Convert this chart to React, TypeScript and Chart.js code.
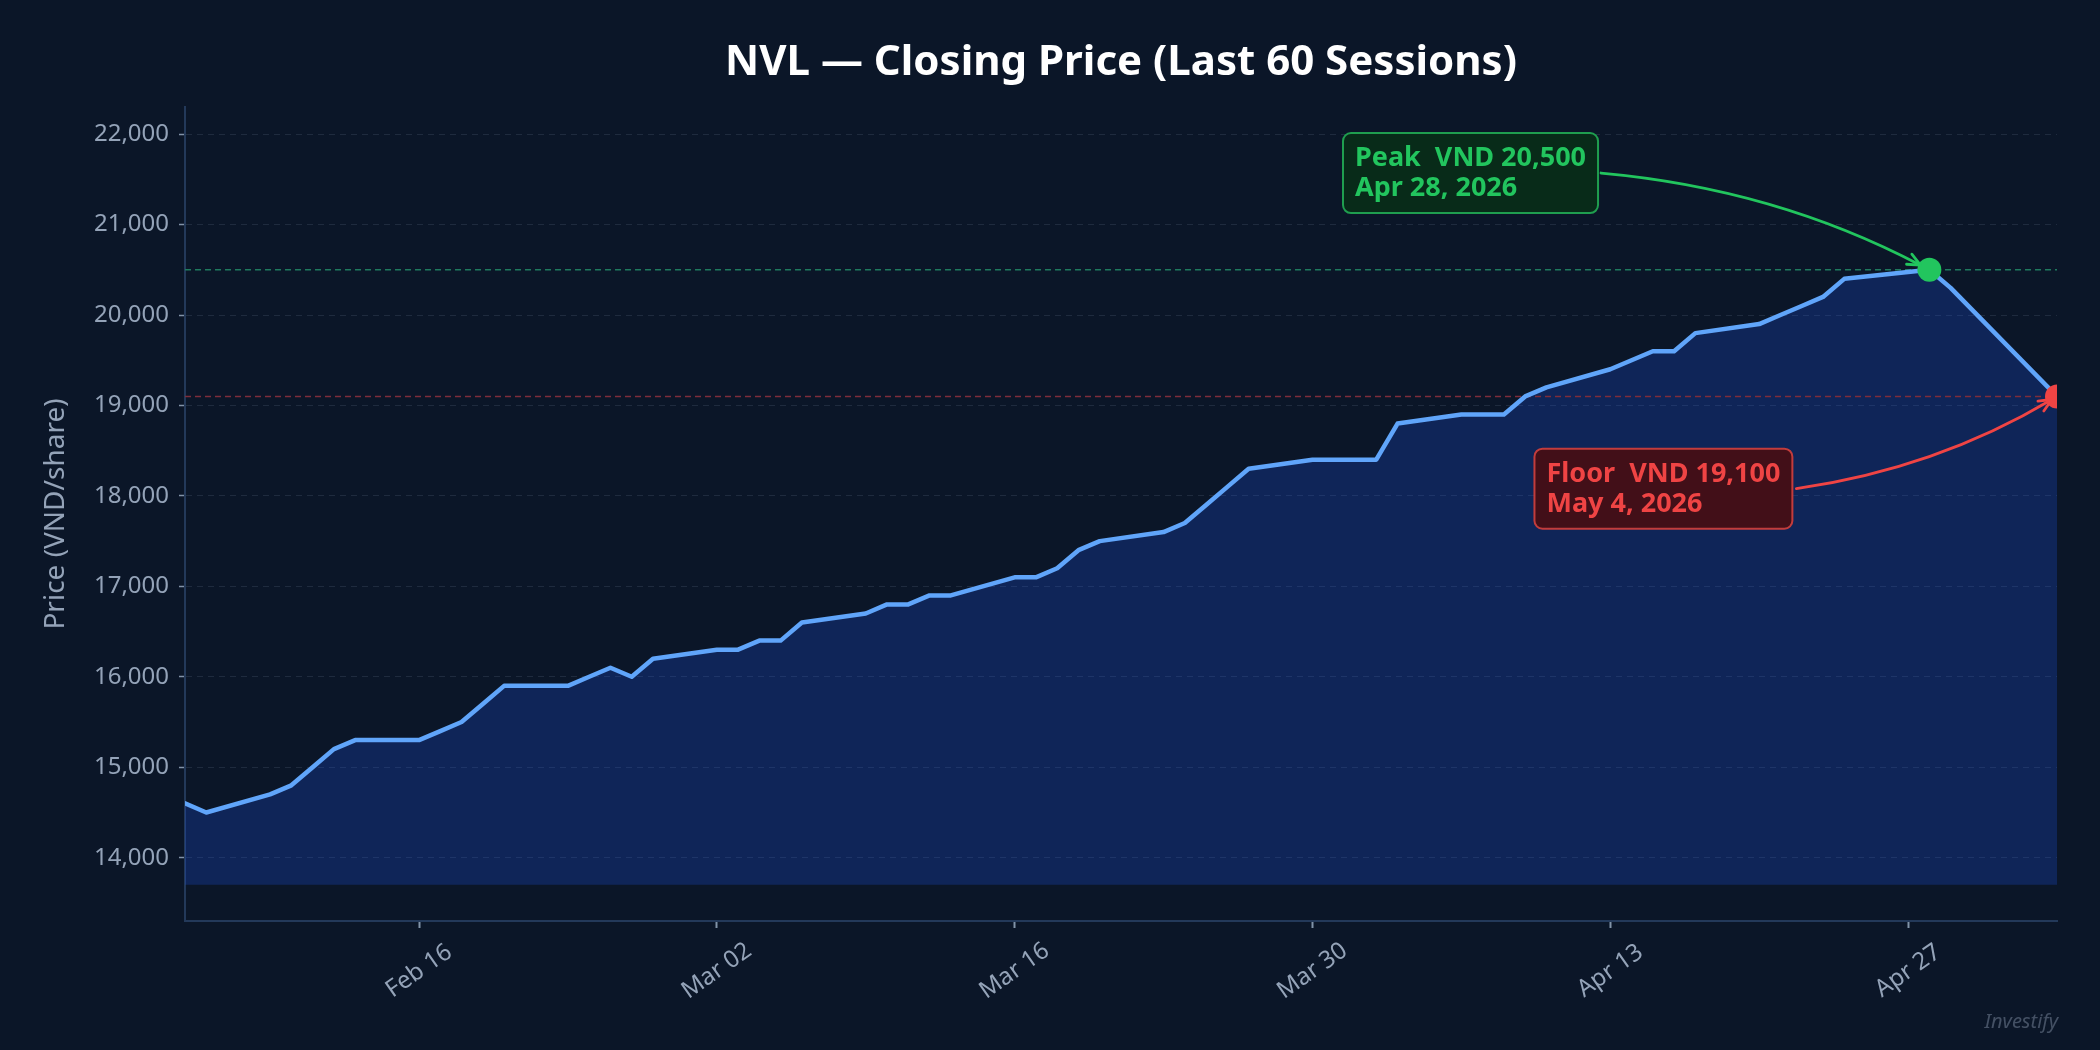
import { useEffect, useRef } from 'react';
import { Chart, registerables } from 'chart.js';

Chart.register(...registerables);

// closing prices, one per trading session
const DATES = [
  '2026-02-05', '2026-02-06', '2026-02-09', '2026-02-10', '2026-02-11', '2026-02-12', '2026-02-13',
  '2026-02-16', '2026-02-17', '2026-02-18', '2026-02-19', '2026-02-20',
  '2026-02-23', '2026-02-24', '2026-02-25', '2026-02-26', '2026-02-27',
  '2026-03-02', '2026-03-03', '2026-03-04', '2026-03-05', '2026-03-06',
  '2026-03-09', '2026-03-10', '2026-03-11', '2026-03-12', '2026-03-13',
  '2026-03-16', '2026-03-17', '2026-03-18', '2026-03-19', '2026-03-20',
  '2026-03-23', '2026-03-24', '2026-03-25', '2026-03-26', '2026-03-27',
  '2026-03-30', '2026-03-31', '2026-04-01', '2026-04-02', '2026-04-03',
  '2026-04-06', '2026-04-07', '2026-04-08', '2026-04-09', '2026-04-10',
  '2026-04-13', '2026-04-14', '2026-04-15', '2026-04-16', '2026-04-17',
  '2026-04-20', '2026-04-21', '2026-04-22', '2026-04-23', '2026-04-24',
  '2026-04-28', '2026-04-29', '2026-05-04',
];
const CLOSE = [
  14600, 14500, 14700, 14800, 15000, 15200, 15300,
  15300, 15400, 15500, 15700, 15900,
  15900, 16000, 16100, 16000, 16200,
  16300, 16300, 16400, 16400, 16600,
  16700, 16800, 16800, 16900, 16900,
  17100, 17100, 17200, 17400, 17500,
  17600, 17700, 17900, 18100, 18300,
  18400, 18400, 18400, 18400, 18800,
  18900, 18900, 18900, 19100, 19200,
  19400, 19500, 19600, 19600, 19800,
  19900, 20000, 20100, 20200, 20400,
  20500, 20300, 19100,
];

const X_TICKS = ['2026-02-16', '2026-03-02', '2026-03-16', '2026-03-30', '2026-04-13', '2026-04-27'];
const X_TICK_LABELS = ['Feb 16', 'Mar 02', 'Mar 16', 'Mar 30', 'Apr 13', 'Apr 27'];
const Y_TICKS = [14000, 15000, 16000, 17000, 18000, 19000, 20000, 21000, 22000];
const Y_MIN = 13300;
const Y_MAX = 22300;
const FILL_BASE = 13700;

const PEAK_DATE = '2026-04-28';
const FLOOR_DATE = '2026-05-04';
// where the note text starts (date) and its vertical centre (price)
const PEAK_NOTE = { date: '2026-04-01', price: 21570 };
const FLOOR_NOTE = { date: '2026-04-10', price: 18080 };

const MONTHS = ['Jan', 'Feb', 'Mar', 'Apr', 'May', 'Jun', 'Jul', 'Aug', 'Sep', 'Oct', 'Nov', 'Dec'];

const TITLE = 'NVL \u2014 Closing Price (Last 60 Sessions)';
const Y_TITLE = 'Price (VND/share)';
const WATERMARK = 'Investify';

const FONT = '"Noto Sans", sans-serif';
const BG = '#0b1628';
const TEXT = '#94a3b8';
const LINE = '#60a5fa';
const GREEN = '#22c55e';
const RED = '#ef4444';

const ms = (d: string) => Date.parse(d + 'T00:00:00Z');
const fmt = (v: number) => v.toLocaleString('en-US');
const longDate = (d: string) => {
  const [y, m, day] = d.split('-').map(Number);
  return `${MONTHS[m - 1]} ${day}, ${y}`;
};

function drawArrow(ctx: CanvasRenderingContext2D, sx: number, sy: number, tx: number, ty: number,
  bend: number, shrink: number, color: string) {
  const mx = (sx + tx) / 2, my = (sy + ty) / 2;
  const dx = tx - sx, dy = ty - sy;
  const cx = mx + bend * dy, cy = my - bend * dx;
  const vx = tx - cx, vy = ty - cy;
  const len = Math.hypot(vx, vy);
  const ex = tx - (vx / len) * shrink, ey = ty - (vy / len) * shrink;
  ctx.save();
  ctx.strokeStyle = color;
  ctx.lineWidth = 2.8;
  ctx.lineCap = 'round';
  ctx.lineJoin = 'round';
  ctx.beginPath();
  ctx.moveTo(sx, sy);
  ctx.quadraticCurveTo(cx, cy, ex, ey);
  ctx.stroke();
  const ang = Math.atan2(ey - cy, ex - cx);
  const hl = 14, ha = 0.42;
  ctx.beginPath();
  ctx.moveTo(ex - hl * Math.cos(ang - ha), ey - hl * Math.sin(ang - ha));
  ctx.lineTo(ex, ey);
  ctx.lineTo(ex - hl * Math.cos(ang + ha), ey - hl * Math.sin(ang + ha));
  ctx.stroke();
  ctx.restore();
}

function drawNote(ctx: CanvasRenderingContext2D, left: number, cy: number, lines: string[],
  color: string, fill: string, stroke: string) {
  ctx.save();
  ctx.font = `bold 27px ${FONT}`;
  const w = Math.max(...lines.map(l => ctx.measureText(l).width));
  const box = { x: left - 12, y: cy - 40, w: w + 24, h: 80 };
  ctx.beginPath();
  ctx.roundRect(box.x, box.y, box.w, box.h, 8);
  ctx.fillStyle = fill;
  ctx.fill();
  ctx.lineWidth = 2;
  ctx.strokeStyle = stroke;
  ctx.stroke();
  ctx.fillStyle = color;
  ctx.textAlign = 'left';
  ctx.textBaseline = 'alphabetic';
  ctx.fillText(lines[0], left, cy - 7);
  ctx.fillText(lines[1], left, cy + 23);
  ctx.restore();
  return box;
}

export default function App() {
  const canvasRef = useRef<HTMLCanvasElement | null>(null);

  useEffect(() => {
    if (!canvasRef.current) return;
    const iPeak = DATES.indexOf(PEAK_DATE);
    const iFloor = DATES.indexOf(FLOOR_DATE);
    const peak = { x: ms(DATES[iPeak]), y: CLOSE[iPeak] };
    const floor = { x: ms(DATES[iFloor]), y: CLOSE[iFloor] };

    const decor = {
      id: 'decor',
      beforeDraw(chart: any) {
        const { ctx, width, height } = chart;
        ctx.save();
        ctx.fillStyle = BG;
        ctx.fillRect(0, 0, width, height);
        ctx.restore();
      },
      beforeDatasetsDraw(chart: any) {
        const { ctx, chartArea: a, scales: { y } } = chart;
        ctx.save();
        ctx.lineWidth = 1.5;
        ctx.setLineDash([6, 4]);
        [[peak.y, '#1f7a5e'], [floor.y, '#7e2d3b']].forEach(([v, c]) => {
          const py = y.getPixelForValue(v as number);
          ctx.strokeStyle = c;
          ctx.beginPath();
          ctx.moveTo(a.left, py);
          ctx.lineTo(a.right, py);
          ctx.stroke();
        });
        ctx.restore();
      },
      afterDraw(chart: any) {
        const { ctx, chartArea: a, scales: { x, y } } = chart;
        ctx.save();
        // title
        ctx.fillStyle = '#ffffff';
        ctx.font = `bold 42px ${FONT}`;
        ctx.textAlign = 'center';
        ctx.textBaseline = 'alphabetic';
        ctx.fillText(TITLE, (a.left + a.right) / 2, 75);
        // y title
        ctx.save();
        ctx.translate(56, (a.top + a.bottom) / 2);
        ctx.rotate(-Math.PI / 2);
        ctx.fillStyle = TEXT;
        ctx.font = `28px ${FONT}`;
        ctx.textBaseline = 'middle';
        ctx.fillText(Y_TITLE, 0, 0);
        ctx.restore();
        // x tick labels
        ctx.font = `24px ${FONT}`;
        ctx.fillStyle = TEXT;
        X_TICKS.forEach((d, i) => {
          ctx.save();
          ctx.translate(x.getPixelForValue(ms(d)), a.bottom + 50);
          ctx.rotate(-35 * Math.PI / 180);
          ctx.textAlign = 'center';
          ctx.textBaseline = 'middle';
          ctx.fillText(X_TICK_LABELS[i], 0, 0);
          ctx.restore();
        });
        // watermark
        ctx.font = `italic 20px ${FONT}`;
        ctx.fillStyle = 'rgba(148,163,184,0.42)';
        ctx.textAlign = 'right';
        ctx.textBaseline = 'alphabetic';
        ctx.fillText(WATERMARK, a.right + 1, 1028);
        ctx.restore();

        // notes and arrows
        const pBox = drawNote(ctx, x.getPixelForValue(ms(PEAK_NOTE.date)), y.getPixelForValue(PEAK_NOTE.price),
          [`Peak  VND ${fmt(peak.y)}`, longDate(PEAK_DATE)], GREEN, '#082b19', '#1f9e4f');
        drawArrow(ctx, pBox.x + pBox.w + 3, pBox.y + pBox.h / 2,
          x.getPixelForValue(peak.x), y.getPixelForValue(peak.y), 0.1, 10, GREEN);
        const fBox = drawNote(ctx, x.getPixelForValue(ms(FLOOR_NOTE.date)), y.getPixelForValue(FLOOR_NOTE.price),
          [`Floor  VND ${fmt(floor.y)}`, longDate(FLOOR_DATE)], RED, '#420f18', '#c23c3c');
        drawArrow(ctx, fBox.x + fBox.w + 4, fBox.y + fBox.h / 2,
          x.getPixelForValue(floor.x), y.getPixelForValue(floor.y), -0.1, 6, RED);
      },
    };

    const chart = new Chart(canvasRef.current, {
      type: 'line',
      data: {
        datasets: [
          {
            data: [peak, floor],
            showLine: false,
            pointRadius: 12,
            pointHoverRadius: 12,
            pointBorderWidth: 0,
            pointBackgroundColor: [GREEN, RED],
            clip: 0,
            order: 0,
          },
          {
            data: DATES.map((d, i) => ({ x: ms(d), y: CLOSE[i] })),
            borderColor: LINE,
            borderWidth: 4.5,
            borderJoinStyle: 'round',
            borderCapStyle: 'round',
            pointRadius: 0,
            tension: 0,
            fill: { value: FILL_BASE },
            backgroundColor: 'rgba(29,78,216,0.28)',
            order: 1,
          },
        ],
      },
      options: {
        animation: false,
        responsive: true,
        maintainAspectRatio: false,
        events: [],
        layout: { padding: { left: 0, right: 43, top: 107, bottom: 0 } },
        plugins: {
          legend: { display: false },
          title: { display: false },
          tooltip: { enabled: false },
          filler: { drawTime: 'beforeDatasetsDraw' },
        },
        scales: {
          x: {
            type: 'linear',
            min: ms(DATES[0]),
            max: ms(DATES[DATES.length - 1]),
            afterBuildTicks: (s: any) => { s.ticks = X_TICKS.map(d => ({ value: ms(d) })); },
            afterFit: (s: any) => { s.height = 129; },
            ticks: { display: false },
            grid: { drawOnChartArea: false, drawTicks: true, tickLength: 7, tickColor: '#8193a8', tickWidth: 2 },
            border: { display: true, color: '#23395a', width: 2 },
          },
          y: {
            min: Y_MIN,
            max: Y_MAX,
            afterBuildTicks: (s: any) => { s.ticks = Y_TICKS.map(v => ({ value: v })); },
            afterFit: (s: any) => { s.width = 185; },
            ticks: {
              color: TEXT,
              font: { family: FONT, size: 24 },
              padding: 10,
              callback: (v: any) => fmt(Number(v)),
            },
            grid: { color: '#1f2b3e', lineWidth: 1, tickLength: 6, tickColor: '#8193a8', tickWidth: 1.5 },
            border: { display: true, color: '#23395a', width: 2, dash: [6, 5] },
          },
        },
      },
      plugins: [decor],
    } as any);
    return () => chart.destroy();
  }, []);

  return (
    <div style={{ position: 'fixed', left: 0, top: 0, width: 2100, height: 1050, background: BG }}>
      <canvas ref={canvasRef} />
    </div>
  );
}
